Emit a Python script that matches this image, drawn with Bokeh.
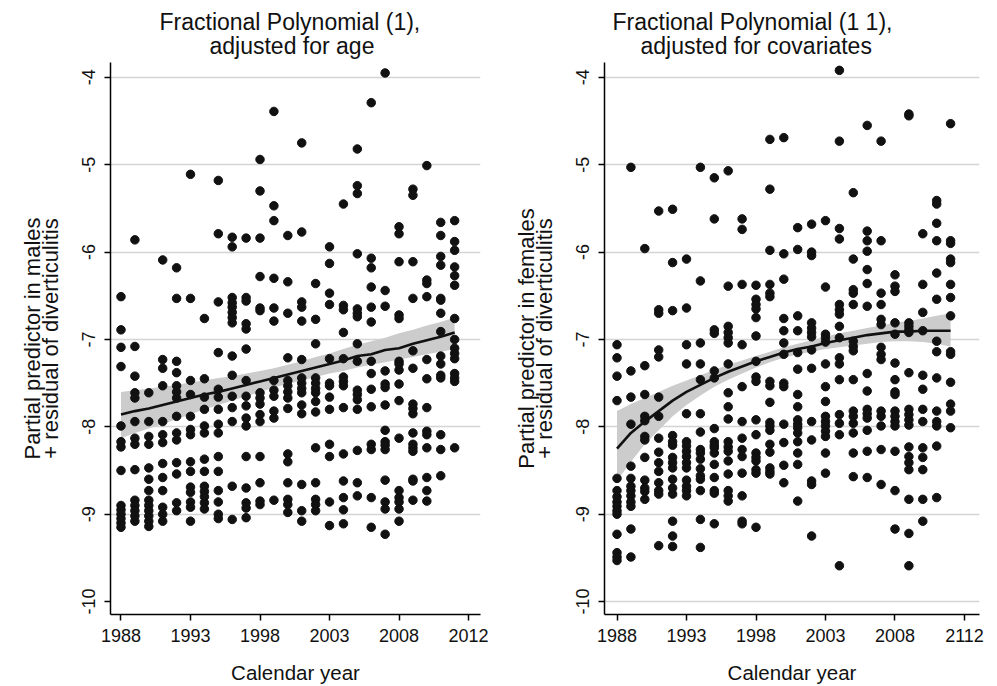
from bokeh.plotting import figure
from bokeh.layouts import row
from bokeh.models import Range1d, FixedTicker, Title, LinearAxis
from bokeh.embed import file_html
from bokeh.resources import INLINE

years = [1988, 1989, 1990, 1991, 1992, 1993, 1994, 1995, 1996, 1997, 1998, 1999,
         2000, 2001, 2002, 2003, 2004, 2005, 2006, 2007, 2008, 2009, 2010, 2011, 2012]

# ---- Males: partial predictor + residual, per calendar year ----
male_1988 = [-6.51, -6.89, -7.09, -7.31, -7.99, -8.17, -8.23, -8.50, -8.90, -8.95, -9.00, -9.05, -9.10, -9.15]
male_1989 = [-5.86, -7.08, -7.42, -7.61, -7.67, -7.94, -8.13, -8.20, -8.49, -8.84, -8.90, -8.96, -9.02, -9.08]
male_1990 = [-7.61, -7.94, -8.11, -8.20, -8.47, -8.60, -8.73, -8.84, -8.90, -8.96, -9.02, -9.08, -9.14]
male_1991 = [-6.09, -7.23, -7.33, -7.53, -7.94, -8.09, -8.18, -8.42, -8.58, -8.73, -8.92, -9.00, -9.08]
male_1992 = [-6.18, -6.53, -7.25, -7.38, -7.53, -7.60, -7.67, -7.88, -8.07, -8.15, -8.41, -8.54, -8.87, -8.96]
male_1993 = [-5.11, -6.53, -7.47, -7.63, -7.88, -8.03, -8.09, -8.40, -8.51, -8.69, -8.75, -8.86, -8.92, -9.08]
male_1994 = [-6.76, -7.45, -7.66, -7.80, -7.99, -8.07, -8.37, -8.51, -8.68, -8.74, -8.80, -8.87, -8.94]
male_1995 = [-5.18, -5.79, -6.57, -7.15, -7.57, -7.66, -7.80, -7.97, -8.07, -8.34, -8.51, -8.73, -8.86, -9.00, -9.05]
male_1996 = [-5.83, -5.94, -6.52, -6.58, -6.63, -6.69, -6.75, -6.81, -7.19, -7.41, -7.65, -7.78, -7.94, -8.68, -9.06]
male_1997 = [-5.84, -6.52, -6.56, -6.82, -6.88, -7.11, -7.47, -7.65, -7.76, -7.90, -7.99, -8.34, -8.70, -8.87, -8.93, -9.04]
male_1998 = [-4.94, -5.30, -5.84, -6.28, -6.64, -6.67, -7.61, -7.67, -7.74, -7.86, -7.94, -8.34, -8.64, -8.85, -8.89]
male_1999 = [-4.39, -5.47, -5.64, -6.30, -6.64, -6.79, -7.47, -7.58, -7.65, -7.82, -7.90, -8.84]
male_2000 = [-5.81, -6.34, -6.70, -7.21, -7.47, -7.53, -7.60, -7.67, -7.79, -8.31, -8.40, -8.64, -8.83, -8.89, -8.98]
male_2001 = [-4.75, -5.77, -6.57, -6.63, -6.79, -7.23, -7.44, -7.50, -7.56, -7.61, -7.75, -7.85, -8.66, -8.96, -9.08]
male_2002 = [-6.36, -6.77, -7.05, -7.44, -7.50, -7.56, -7.61, -7.71, -7.83, -8.24, -8.64, -8.83, -8.89, -8.96]
male_2003 = [-5.94, -6.13, -6.47, -6.60, -7.22, -7.50, -7.53, -7.66, -7.80, -8.20, -8.34, -8.86, -9.13]
male_2004 = [-5.45, -6.61, -6.66, -6.92, -7.22, -7.43, -7.48, -7.53, -7.78, -8.31, -8.62, -8.81, -8.95, -9.11]
male_2005 = [-4.82, -5.24, -5.33, -6.02, -6.65, -6.70, -6.74, -7.05, -7.25, -7.58, -7.63, -7.69, -7.80, -8.27, -8.64, -8.79]
male_2006 = [-4.29, -6.07, -6.18, -6.40, -6.63, -6.80, -7.25, -7.39, -7.57, -7.77, -8.20, -8.26, -8.81, -9.15]
male_2007 = [-3.95, -6.44, -6.62, -7.36, -7.51, -7.55, -7.75, -8.04, -8.17, -8.21, -8.26, -8.61, -8.86, -8.94, -9.23]
male_2008 = [-5.71, -5.79, -6.11, -6.72, -6.76, -7.25, -7.28, -7.35, -7.51, -7.70, -8.13, -8.73, -8.81, -8.86, -8.94, -9.08]
male_2009 = [-5.28, -5.35, -6.11, -6.53, -7.13, -7.33, -7.74, -7.79, -7.85, -8.07, -8.20, -8.24, -8.28, -8.60, -8.62, -8.84]
male_2010 = [-5.01, -6.32, -6.36, -6.51, -7.23, -7.45, -7.78, -8.05, -8.09, -8.24, -8.58, -8.73, -8.85]
male_2011 = [-5.66, -5.81, -6.05, -6.15, -6.53, -6.55, -6.70, -6.91, -7.19, -7.28, -7.41, -7.44, -8.09, -8.26, -8.56]
male_2012 = [-5.64, -5.88, -5.98, -6.17, -6.27, -6.38, -6.76, -7.00, -7.10, -7.16, -7.22, -7.39, -7.44, -7.48, -8.24]

male_fit = [-7.86, -7.82, -7.79, -7.75, -7.71, -7.67, -7.63, -7.60, -7.56, -7.52, -7.48, -7.44,
            -7.40, -7.36, -7.32, -7.28, -7.24, -7.19, -7.17, -7.12, -7.10, -7.05, -7.01, -6.97, -6.92]
male_hi = [-7.60, -7.58, -7.56, -7.54, -7.52, -7.49, -7.47, -7.44, -7.42, -7.39, -7.36, -7.33,
           -7.29, -7.25, -7.20, -7.16, -7.11, -7.06, -7.02, -6.98, -6.93, -6.89, -6.84, -6.80, -6.75]
male_lo = [-8.13, -8.07, -8.02, -7.97, -7.91, -7.86, -7.80, -7.75, -7.70, -7.65, -7.60, -7.55,
           -7.51, -7.47, -7.43, -7.39, -7.36, -7.32, -7.29, -7.26, -7.23, -7.20, -7.17, -7.14, -7.11]

# ---- Females ----
female_1988 = [-7.06, -7.21, -7.42, -7.70, -8.59, -8.73, -8.80, -8.86, -8.91, -8.96, -9.00, -9.23, -9.44, -9.49, -9.53]
female_1989 = [-5.03, -7.36, -7.66, -7.97, -8.45, -8.59, -8.68, -8.73, -8.79, -8.86, -8.91, -9.17, -9.49]
female_1990 = [-5.96, -7.30, -7.63, -7.88, -7.93, -8.11, -8.15, -8.35, -8.61, -8.70, -8.74, -8.83]
female_1991 = [-5.53, -6.66, -6.70, -7.12, -7.20, -7.66, -7.88, -8.13, -8.29, -8.41, -8.51, -8.64, -8.73, -8.77, -9.36]
female_1992 = [-5.51, -6.12, -6.67, -8.10, -8.17, -8.21, -8.35, -8.41, -8.47, -8.60, -8.70, -8.77, -9.08, -9.25, -9.37]
female_1993 = [-6.08, -6.64, -7.06, -7.28, -7.85, -8.17, -8.22, -8.28, -8.34, -8.41, -8.47, -8.61, -8.68, -8.73, -8.79]
female_1994 = [-5.03, -6.33, -7.04, -7.28, -7.46, -7.85, -8.06, -8.26, -8.30, -8.37, -8.48, -8.56, -8.60, -8.73, -9.06, -9.38]
female_1995 = [-5.15, -5.62, -6.89, -6.93, -7.36, -7.44, -8.02, -8.17, -8.21, -8.24, -8.30, -8.43, -8.58, -8.73, -8.76, -9.11]
female_1996 = [-5.07, -6.39, -6.85, -6.92, -6.98, -7.04, -7.28, -7.61, -7.77, -7.91, -8.17, -8.23, -8.28, -8.39, -8.54, -8.73, -8.79, -8.85]
female_1997 = [-5.62, -5.74, -6.37, -7.06, -7.54, -7.94, -8.13, -8.26, -8.34, -8.53, -8.79, -9.08, -9.11]
female_1998 = [-6.38, -6.54, -6.60, -6.65, -6.75, -6.96, -7.25, -7.43, -7.48, -7.92, -8.09, -8.30, -8.35, -8.39, -8.49, -8.53, -9.15]
female_1999 = [-4.71, -5.28, -5.98, -6.37, -6.47, -6.51, -7.48, -7.53, -7.72, -7.95, -7.99, -8.04, -8.20, -8.29, -8.47, -8.51, -8.54]
female_2000 = [-4.69, -6.02, -6.31, -6.76, -6.90, -7.04, -7.17, -7.50, -7.54, -7.97, -8.18, -8.44, -8.64]
female_2001 = [-5.72, -5.97, -6.73, -6.90, -7.15, -7.34, -7.63, -7.77, -7.92, -7.97, -8.01, -8.07, -8.17, -8.30, -8.43, -8.85]
female_2002 = [-5.68, -6.00, -6.04, -6.81, -6.87, -6.92, -6.97, -7.12, -7.33, -7.94, -8.15, -8.62, -8.66, -9.25]
female_2003 = [-5.64, -6.40, -6.94, -6.98, -7.03, -7.28, -7.54, -7.71, -7.88, -7.94, -7.99, -8.05, -8.11, -8.30, -8.53]
female_2004 = [-3.92, -4.73, -5.73, -5.85, -6.60, -6.66, -6.71, -6.85, -6.98, -7.21, -7.28, -7.46, -7.86, -7.96, -8.09, -9.59]
female_2005 = [-5.32, -6.08, -6.43, -6.47, -6.60, -7.02, -7.08, -7.13, -7.46, -7.82, -7.88, -7.96, -8.07, -8.30, -8.57]
female_2006 = [-4.55, -5.76, -5.87, -5.99, -6.20, -6.36, -6.62, -7.39, -7.59, -7.80, -7.85, -7.90, -8.04, -8.28, -8.58]
female_2007 = [-4.73, -5.87, -6.47, -6.60, -6.77, -6.83, -7.09, -7.17, -7.23, -7.82, -7.88, -7.99, -8.26, -8.66]
female_2008 = [-6.26, -6.39, -6.45, -6.81, -6.94, -7.27, -7.46, -7.60, -7.63, -7.82, -7.88, -7.94, -7.99, -8.28, -8.73, -9.17]
female_2009 = [-4.42, -4.44, -6.81, -6.85, -6.89, -6.92, -7.38, -7.80, -7.86, -7.92, -7.98, -8.23, -8.34, -8.41, -8.49, -8.83, -9.22, -9.59]
female_2010 = [-5.79, -6.37, -6.69, -6.90, -7.41, -7.57, -7.80, -7.94, -8.24, -8.35, -8.49, -8.83, -9.08]
female_2011 = [-5.41, -5.45, -5.67, -5.87, -6.24, -6.54, -7.02, -7.14, -7.44, -7.82, -7.94, -7.99, -8.22, -8.81]
female_2012 = [-4.53, -5.87, -5.90, -6.08, -6.12, -6.37, -6.52, -6.73, -7.14, -7.17, -7.49, -7.74, -7.82, -8.01]

female_fit = [-8.25, -8.07, -7.94, -7.82, -7.70, -7.60, -7.52, -7.44, -7.37, -7.31, -7.25, -7.20,
              -7.15, -7.11, -7.08, -7.04, -7.01, -6.98, -6.95, -6.93, -6.91, -6.91, -6.90, -6.90, -6.90]
female_hi = [-7.82, -7.74, -7.67, -7.60, -7.53, -7.47, -7.41, -7.35, -7.29, -7.24, -7.19, -7.14,
             -7.09, -7.05, -7.01, -6.97, -6.93, -6.90, -6.87, -6.84, -6.81, -6.79, -6.76, -6.73, -6.70]
female_lo = [-8.62, -8.40, -8.20, -8.04, -7.88, -7.75, -7.64, -7.54, -7.46, -7.39, -7.32, -7.26,
             -7.21, -7.17, -7.14, -7.11, -7.09, -7.07, -7.05, -7.03, -7.02, -7.02, -7.03, -7.05, -7.08]

x_ticks = [1988, 1993, 1998, 2003, 2008, 2013]
left_x_labels = {1988: "1988", 1993: "1993", 1998: "1998", 2003: "2003", 2008: "2008", 2013: "2012"}
right_x_labels = {1988: "1988", 1993: "1993", 1998: "1998", 2003: "2003", 2008: "2008", 2013: "2112"}
y_ticks = [-10, -9, -8, -7, -6, -5, -4]
y_labels = {-10: "-10", -9: "-9", -8: "-8", -7: "-7", -6: "-6", -5: "-5", -4: "-4"}

left_title = ["Fractional Polynomial (1),", "adjusted for age"]
right_title = ["Fractional Polynomial (1 1),", "adjusted for covariates"]
left_ylabel = ["Partial predictor in males", "+ residual of diverticulitis"]
right_ylabel = ["Partial predictor in females", "+ residual of diverticulitis"]
xlabel = "Calendar year"

male_cols = [male_1988, male_1989, male_1990, male_1991, male_1992, male_1993, male_1994, male_1995,
             male_1996, male_1997, male_1998, male_1999, male_2000, male_2001, male_2002, male_2003,
             male_2004, male_2005, male_2006, male_2007, male_2008, male_2009, male_2010, male_2011, male_2012]
female_cols = [female_1988, female_1989, female_1990, female_1991, female_1992, female_1993, female_1994,
               female_1995, female_1996, female_1997, female_1998, female_1999, female_2000, female_2001,
               female_2002, female_2003, female_2004, female_2005, female_2006, female_2007, female_2008,
               female_2009, female_2010, female_2011, female_2012]

FONT = "Liberation Sans"
DOT = "#111111"
INK = "#111111"


def flatten(cols):
    xs, ys = [], []
    for yr, vals in zip(years, cols):
        for v in vals:
            xs.append(yr)
            ys.append(v)
    return xs, ys


def make_panel(title_lines, title_offsets, ylabel_lines, cols, fit, lo, hi, xlabels, grid_ticks,
               width, border_left, border_right, x_start, x_end):
    p = figure(width=width, height=686, output_backend="svg", toolbar_location=None, title=None,
               x_range=Range1d(x_start, x_end), y_range=Range1d(-10.148, -3.83),
               min_border_left=border_left, min_border_right=border_right,
               min_border_top=62, min_border_bottom=68)
    p.outline_line_color = None
    p.background_fill_color = "white"
    p.border_fill_color = "white"

    # second title line is closest to the frame, first line stacked above it
    t2 = Title(text=title_lines[1], align="left", offset=title_offsets[1], standoff=8,
               text_font=FONT, text_font_size="23px", text_font_style="normal",
               text_color=INK)
    t1 = Title(text=title_lines[0], align="left", offset=title_offsets[0], standoff=-16,
               text_font=FONT, text_font_size="23px", text_font_style="normal",
               text_color=INK)
    p.add_layout(t2, "above")
    p.add_layout(t1, "above")

    p.varea(x=years, y1=lo, y2=hi, fill_color="#cccccc", fill_alpha=1.0)
    xs, ys = flatten(cols)
    p.scatter(xs, ys, size=8.5, fill_color=DOT, line_color=DOT)
    p.line(years, fit, line_width=2.6, line_color=INK)

    p.xaxis.ticker = FixedTicker(ticks=x_ticks)
    p.xaxis.major_label_overrides = xlabels
    p.yaxis.ticker = FixedTicker(ticks=y_ticks)
    p.yaxis.major_label_overrides = y_labels
    p.yaxis.major_label_orientation = "vertical"

    for ax in (p.xaxis, p.yaxis):
        ax.axis_line_color = "black"
        ax.axis_line_width = 1.5
        ax.major_tick_line_color = "black"
        ax.major_tick_line_width = 1.5
        ax.major_tick_in = 0
        ax.major_tick_out = 6
        ax.minor_tick_line_color = None
        ax.major_label_text_font = FONT
        ax.major_label_text_font_size = "18px"
        ax.major_label_text_color = INK
        ax.axis_label_text_font = FONT
        ax.axis_label_text_font_style = "normal"
        ax.axis_label_text_color = INK
    p.xaxis.axis_label_text_font_size = "20.5px"
    p.yaxis.axis_label_text_font_size = "22px"
    p.xaxis.major_label_standoff = 8
    p.yaxis.major_label_standoff = 9
    p.xaxis.axis_label = xlabel
    p.xaxis.axis_label_standoff = 16
    p.yaxis.axis_label = ylabel_lines[1]
    p.yaxis.axis_label_standoff = 17

    # first line of the y title: a bare axis further out on the left
    extra = LinearAxis(ticker=FixedTicker(ticks=[]), axis_line_color=None,
                       major_tick_line_color=None, minor_tick_line_color=None,
                       major_tick_out=0, major_label_standoff=0,
                       axis_label=ylabel_lines[0], axis_label_standoff=-10,
                       axis_label_text_font=FONT, axis_label_text_font_size="22px",
                       axis_label_text_font_style="normal", axis_label_text_color=INK)
    p.add_layout(extra, "left")

    p.xgrid.grid_line_color = None
    p.ygrid.ticker = FixedTicker(ticks=grid_ticks)
    p.ygrid.grid_line_color = "#d4d4d4"
    p.ygrid.grid_line_width = 1.5
    return p


left = make_panel(left_title, [49, 99], left_ylabel,
                  male_cols, male_fit, male_lo, male_hi, left_x_labels,
                  [-9, -8, -7, -6, -5, -4],
                  498, 110, 18, 1987.245, 2013.86)
right = make_panel(right_title, [8, 36], right_ylabel,
                   female_cols, female_fit, female_lo, female_hi, right_x_labels,
                   [-10, -9, -8, -7, -6, -5, -4],
                   499, 106, 18, 1987.10, 2014.08)

layout = row(left, right)
open("out.html", "w").write(file_html(layout, INLINE))
